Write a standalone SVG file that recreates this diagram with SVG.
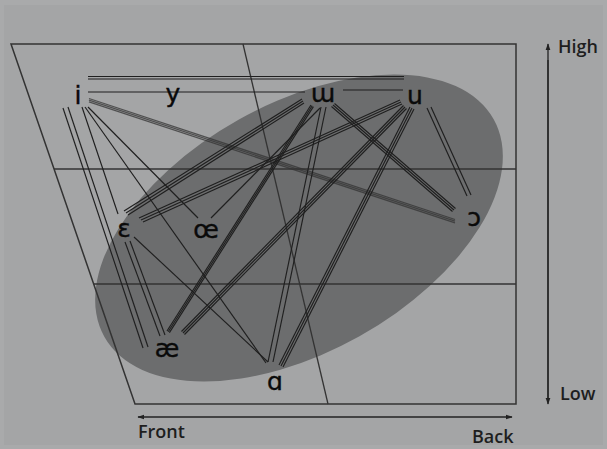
<svg xmlns="http://www.w3.org/2000/svg" width="607" height="449" viewBox="0 0 607 449">
<style>
.frame{fill:none;stroke:#333;stroke-width:1.5}
.grid{stroke:#333;stroke-width:1.3;fill:none}
.c{stroke:#1f1f1f;stroke-width:1.15;fill:none}
.band{stroke:#333;stroke-width:1.3;fill:none;opacity:0.75}
.v{font-family:"DejaVu Sans",sans-serif;font-size:25px;fill:#0a0a0a;stroke:#0a0a0a;stroke-width:0.4;text-anchor:middle}
.ax{font-family:"Open Sans","Liberation Sans",sans-serif;font-size:18px;font-weight:600;fill:#1e1e1e}
.arr{stroke:#222;stroke-width:1.3;fill:none}
</style>
<defs>
<marker id="ah" viewBox="0 0 10 10" refX="9" refY="5" markerWidth="7" markerHeight="7" orient="auto-start-reverse" markerUnits="userSpaceOnUse">
<path d="M0,1.5 L10,5 L0,8.5 z" fill="#222"/>
</marker>
</defs>
<rect width="607" height="449" fill="#a9aaab"/>
<rect x="4" y="5" width="599" height="440" fill="#a4a5a6"/>
<ellipse cx="299" cy="228" rx="223" ry="124" transform="rotate(-29.2 299 228)" fill="#6c6d6e"/>
<g id="chart">
<path class="frame" d="M11,44 H516 V404 H135 Z"/>
<line class="grid" x1="243" y1="44" x2="328" y2="404"/>
<line class="grid" x1="54" y1="169" x2="516" y2="169"/>
<line class="grid" x1="94" y1="284" x2="516" y2="284"/>
</g>
<g id="connectors">
<line class="c" x1="88" y1="76.5" x2="404" y2="76.5"/>
<line class="c" x1="88" y1="79" x2="404" y2="79"/>
<line class="c" x1="88" y1="92" x2="305" y2="92"/>
<line class="c" x1="343" y1="90" x2="403" y2="90"/>
<line class="band" x1="89" y1="98.5" x2="455" y2="219.5"/>
<line class="band" x1="89" y1="100.2" x2="455" y2="221.2"/>
<line class="band" x1="89" y1="101.9" x2="455" y2="222.9"/>
<line class="c" x1="63" y1="108" x2="143" y2="348"/>
<line class="c" x1="68" y1="107" x2="148" y2="347"/>
<line class="c" x1="82" y1="107" x2="118" y2="214"/>
<line class="c" x1="85" y1="107" x2="266" y2="363"/>
<line class="c" x1="88" y1="107" x2="198" y2="218"/>
<line class="c" x1="125" y1="242" x2="160" y2="336"/>
<line class="c" x1="130" y1="241" x2="165" y2="335"/>
<line class="c" x1="134" y1="237" x2="268" y2="362"/>
<line class="c" x1="302" y1="99" x2="124" y2="211"/>
<line class="c" x1="303" y1="101" x2="126" y2="213"/>
<line class="c" x1="304" y1="103" x2="128" y2="215"/>
<line class="c" x1="400" y1="100" x2="139" y2="218"/>
<line class="c" x1="401" y1="102" x2="141" y2="220"/>
<line class="c" x1="402" y1="104" x2="143" y2="222"/>
<line class="c" x1="311" y1="105" x2="167" y2="331"/>
<line class="c" x1="312.2" y1="105.8" x2="168.2" y2="331.8"/>
<line class="c" x1="313.4" y1="106.6" x2="169.4" y2="332.6"/>
<line class="c" x1="403.5" y1="105.5" x2="181.5" y2="331.5"/>
<line class="c" x1="405" y1="107" x2="183" y2="333"/>
<line class="c" x1="406.5" y1="108.5" x2="184.5" y2="334.5"/>
<line class="c" x1="321" y1="107" x2="268" y2="362"/>
<line class="c" x1="326" y1="107" x2="273" y2="362"/>
<line class="c" x1="410" y1="107" x2="279" y2="365"/>
<line class="c" x1="412" y1="108" x2="281" y2="366"/>
<line class="c" x1="414" y1="109" x2="283" y2="367"/>
<line class="c" x1="334.5" y1="103.5" x2="455.5" y2="208.5"/>
<line class="c" x1="333" y1="105" x2="454" y2="210"/>
<line class="c" x1="331.5" y1="106.5" x2="452.5" y2="211.5"/>
<line class="c" x1="427" y1="108" x2="467" y2="196"/>
<line class="c" x1="431" y1="107" x2="471" y2="195"/>
<line class="c" x1="320" y1="108" x2="211" y2="218"/>
</g>
<g id="node-i"><text class="v" x="78" y="104">i</text></g>
<g id="node-y"><text class="v" x="173" y="102">y</text></g>
<g id="node-m"><text class="v" x="323" y="102">ɯ</text></g>
<g id="node-u"><text class="v" x="415" y="104">u</text></g>
<g id="node-open-o"><text class="v" x="474" y="226">ɔ</text></g>
<g id="node-e"><text class="v" x="124" y="237">ɛ</text></g>
<g id="node-oe"><text class="v" x="206" y="238">œ</text></g>
<g id="node-ae"><text class="v" x="167" y="357">æ</text></g>
<g id="node-a"><text class="v" x="275" y="390">ɑ</text></g>
<g id="axes">
<line class="arr" x1="548" y1="400" x2="548" y2="44" marker-end="url(#ah)"/>
<line class="arr" x1="548" y1="60" x2="548" y2="404" marker-end="url(#ah)"/>
<line class="arr" x1="300" y1="417" x2="138" y2="417" marker-end="url(#ah)"/>
<line class="arr" x1="300" y1="417" x2="512" y2="417" marker-end="url(#ah)"/>
<text class="ax" x="558" y="53">High</text>
<text class="ax" x="560" y="400">Low</text>
<text class="ax" x="138" y="438">Front</text>
<text class="ax" x="472" y="443">Back</text>
</g>
</svg>
